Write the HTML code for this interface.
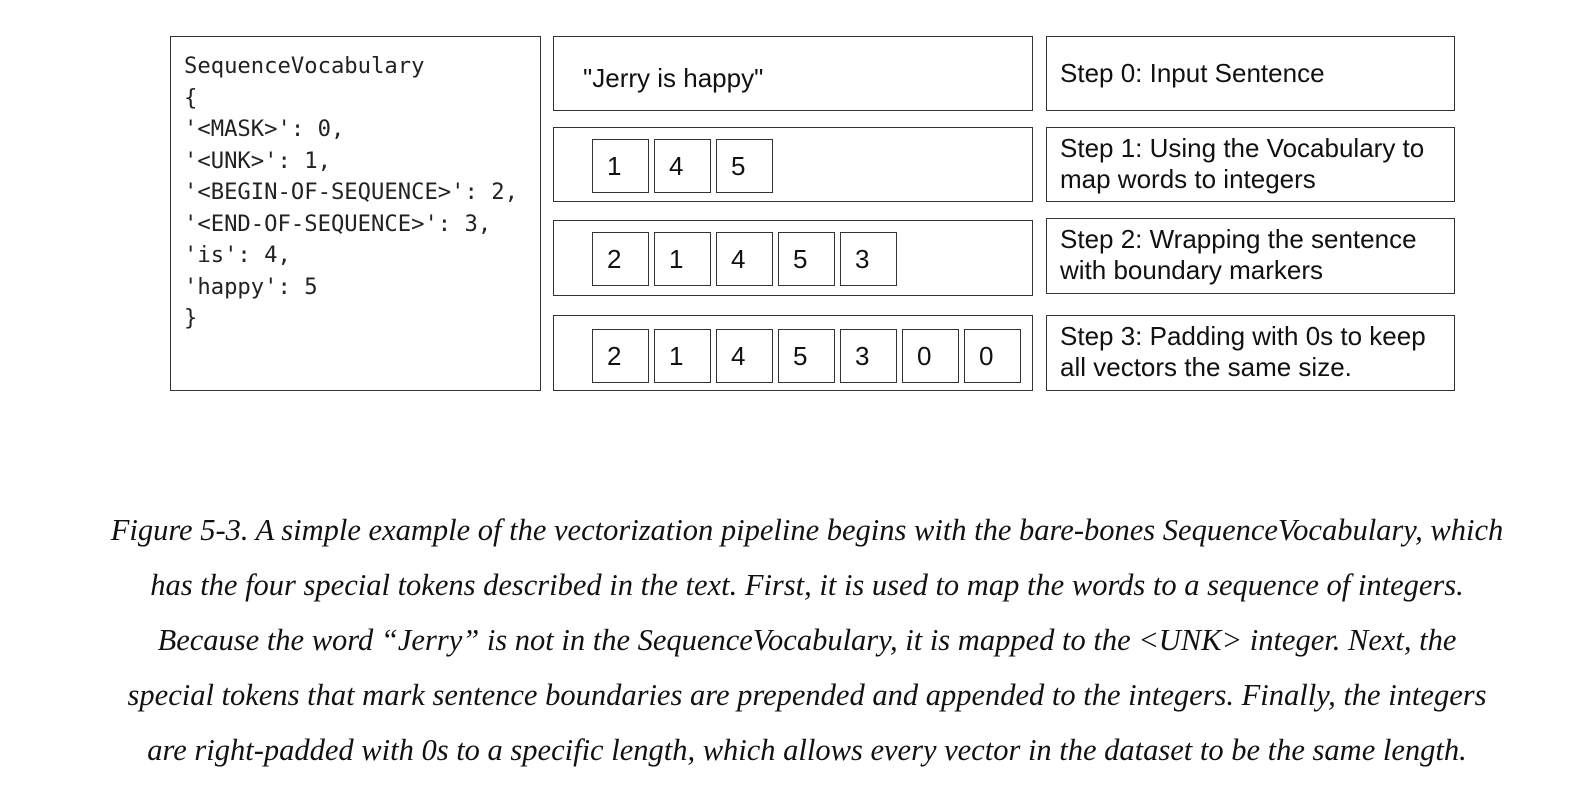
<!DOCTYPE html>
<html><head><meta charset="utf-8"><style>
body{margin:0;width:1578px;height:806px;background:#fff;position:relative;overflow:hidden;font-family:"Liberation Sans",sans-serif;color:#111}
.box{position:absolute;border:1.5px solid #333;box-sizing:border-box;background:#fff}
.code{position:absolute;left:184px;top:51px;font-family:"DejaVu Sans Mono","Liberation Mono",monospace;font-size:22.2px;line-height:31.5px;white-space:pre;color:#222}
.txt{position:absolute;font-size:26px;line-height:31px;color:#111}
.tok{position:absolute;width:57px;height:54px;border:1.5px solid #333;box-sizing:border-box;font-size:26px;line-height:52px;padding-left:14px}
.cap{position:absolute;width:1620px;top:503px;text-align:center;font-family:"Liberation Serif",serif;font-style:italic;font-size:30.5px;line-height:55px;color:#111}
</style></head><body>
<div class="box" style="left:170px;top:36px;width:371px;height:355px"></div>
<div class="code">SequenceVocabulary
{
'&lt;MASK&gt;': 0,
'&lt;UNK&gt;': 1,
'&lt;BEGIN-OF-SEQUENCE&gt;': 2,
'&lt;END-OF-SEQUENCE&gt;': 3,
'is': 4,
'happy': 5
}</div>

<div class="box" style="left:553px;top:36px;width:480px;height:75px"></div>
<div class="txt" style="left:583px;top:63px">"Jerry is happy"</div>
<div class="box" style="left:553px;top:127px;width:480px;height:75px"></div>
<div class="box" style="left:553px;top:220px;width:480px;height:76px"></div>
<div class="box" style="left:553px;top:315px;width:480px;height:76px"></div>

<div class="box" style="left:1046px;top:36px;width:409px;height:75px"></div>
<div class="txt" style="left:1060px;top:58px">Step 0: Input Sentence</div>
<div class="box" style="left:1046px;top:127px;width:409px;height:75px"></div>
<div class="txt" style="left:1060px;top:133px">Step 1: Using the Vocabulary to<br>map words to integers</div>
<div class="box" style="left:1046px;top:218px;width:409px;height:76px"></div>
<div class="txt" style="left:1060px;top:224px">Step 2: Wrapping the sentence<br>with boundary markers</div>
<div class="box" style="left:1046px;top:315px;width:409px;height:76px"></div>
<div class="txt" style="left:1060px;top:321px">Step 3: Padding with 0s to keep<br>all vectors the same size.</div>

<div id="tokens"></div>

<div class="cap" style="left:-3px">Figure 5-3. A simple example of the vectorization pipeline begins with the bare-bones SequenceVocabulary, which<br>has the four special tokens described in the text. First, it is used to map the words to a sequence of integers.<br>Because the word “Jerry” is not in the SequenceVocabulary, it is mapped to the &lt;UNK&gt; integer. Next, the<br>special tokens that mark sentence boundaries are prepended and appended to the integers. Finally, the integers<br>are right-padded with 0s to a specific length, which allows every vector in the dataset to be the same length.</div>

<script>
const step1 = [1,4,5];
const step2 = [2,1,4,5,3];
const step3 = [2,1,4,5,3,0,0];
const rows = [step1, step2, step3];
const rowTops = [139, 232, 329];
const c = document.getElementById('tokens');
rows.forEach((r, ri) => {
  r.forEach((v, i) => {
    const d = document.createElement('div');
    d.className = 'tok';
    d.style.left = (592 + i * 62) + 'px';
    d.style.top = rowTops[ri] + 'px';
    d.textContent = v;
    
    
    c.appendChild(d);
  });
});
</script>
</body></html>
